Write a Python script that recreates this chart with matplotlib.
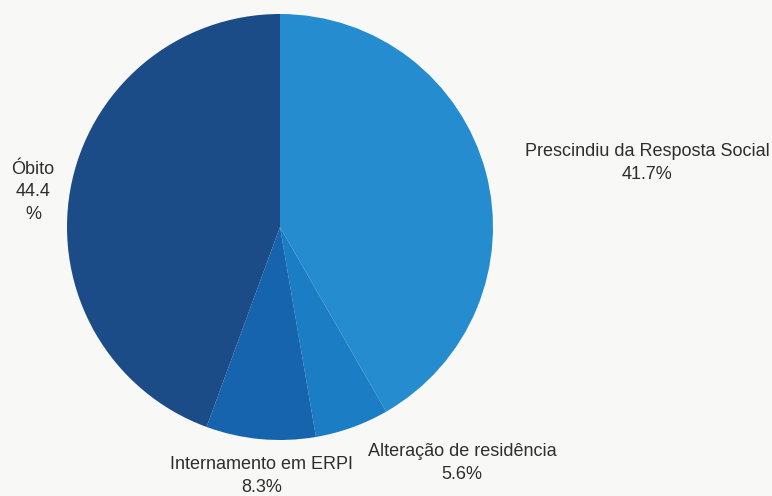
import matplotlib
matplotlib.use("Agg")
import matplotlib.pyplot as plt

categories = ["Prescindiu da Resposta Social", "Alteração de residência", "Internamento em ERPI", "Óbito"]
values = [41.7, 5.6, 8.3, 44.4]
label_texts = ["Prescindiu da Resposta Social\n41.7%", "Alteração de residência\n5.6%",
               "Internamento em ERPI\n8.3%", "Óbito\n44.4\n%"]
colors = ["#268cd0", "#1b7dc3", "#1664ae", "#1c4c88"]

W, H = 772, 496
fig = plt.figure(figsize=(W / 100, H / 100), dpi=100, facecolor="#f8f8f6")
plt.rcParams['font.family'] = ['Liberation Sans', 'DejaVu Sans']

cx, cy, r = 280, 227, 213
ax = fig.add_axes([(cx - r) / W, (H - cy - r) / H, 2 * r / W, 2 * r / H])
ax.pie(values, colors=colors, startangle=90, counterclock=False, radius=1,
       wedgeprops=dict(linewidth=0))
ax.set_xlim(-1, 1)
ax.set_ylim(-1, 1)
ax.set_axis_off()

label_pos = [(647, 163), (462, 463), (262, 476), (33, 192)]
for txt, (px, py) in zip(label_texts, label_pos):
    fig.text(px / W, 1 - py / H, txt, ha="center", va="center", fontsize=13,
             color="#2e2e2e", linespacing=1.4)

fig.savefig("out.png", dpi=100, facecolor=fig.get_facecolor())
